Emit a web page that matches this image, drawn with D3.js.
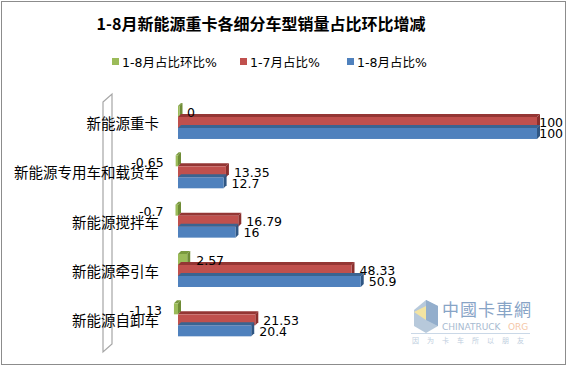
<!DOCTYPE html>
<html><head><meta charset="utf-8">
<script src="https://cdn.jsdelivr.net/npm/d3@7"></script>
<style>
html,body{margin:0;padding:0;background:#fff;}
svg{display:block;}
</style>
</head><body>
<svg id="chart" width="567" height="366"></svg>
<script>
const title = "1-8月新能源重卡各细分车型销量占比环比增减";
const categories = ["新能源重卡","新能源专用车和载货车","新能源搅拌车","新能源牵引车","新能源自卸车"];
const seriesNames = ["1-8月占比环比%","1-7月占比%","1-8月占比%"];
const seriesColors = ["#9BBB59","#C0504D","#4F81BD"];
const topColors = ["#7A9A3E","#943634","#3A6491"];
const sideColors = ["#6E8B35","#8A2F2D","#2F5683"];
const momChange = [0, -0.65, -0.7, 2.57, -1.13];
const share17 = [100, 13.35, 16.79, 48.33, 21.53];
const share18 = [100, 12.7, 16, 50.9, 20.4];
const series = [momChange, share17, share18];

const svg = d3.select("#chart");
const latin = "'DejaVu Sans','Noto Sans CJK SC',sans-serif";
const cjk = "'Noto Sans CJK SC','DejaVu Sans',sans-serif";

// outer border
svg.append("rect").attr("x",1.5).attr("y",1.5).attr("width",564).attr("height",363)
  .attr("fill","#fff").attr("stroke","#8c8c8c").attr("stroke-width",1);

// title
svg.append("text").attr("x",261).attr("y",30).attr("text-anchor","middle")
  .attr("font-family",cjk).attr("font-weight","bold").attr("font-size",16)
  .attr("fill","#000").text(title);

// legend
const legendX = [112, 240, 347];
seriesNames.forEach((n,i)=>{
  svg.append("rect").attr("x",legendX[i]).attr("y",58).attr("width",7).attr("height",7).attr("fill",seriesColors[i]);
  svg.append("text").attr("x",legendX[i]+10).attr("y",66.5).attr("font-family",latin)
    .attr("font-size",12.5).attr("fill","#000").text(n);
});

// scales
const x = d3.scaleLinear().domain([0,100]).range([178,537]);
const y = d3.scaleBand().domain(categories).range([103.3,350]).padding(0);
const d = 3, h = 11;

// 3D wall
svg.append("path")
  .attr("d","M103,102 L112,94 L112,344 L103,352 Z")
  .attr("fill","#fff").attr("stroke","#a6a6a6").attr("stroke-width",1.2);

// category labels
categories.forEach(c=>{
  const cy = y(c) + y.bandwidth()/2;
  svg.append("text").attr("x",159).attr("y",cy-4).attr("dy","0.35em")
    .attr("text-anchor","end").attr("font-family",cjk).attr("font-size",14.5)
    .attr("fill","#000").text(c);
});

// bars
const offsets = [-22, -11, 0];
series.forEach((vals,si)=>{
  vals.forEach((v,ci)=>{
    const cy = y(categories[ci]) + y.bandwidth()/2;
    const yt = cy + offsets[si];
    let x0 = x(Math.min(0,v)), x1 = x(Math.max(0,v));
    if (x1 - x0 < 1.5) x1 = x0 + 1.5;
    const g = svg.append("g");
    g.append("path").attr("d",`M${x0},${yt} L${x1},${yt} L${x1+d},${yt-d} L${x0+d},${yt-d} Z`)
      .attr("fill",topColors[si]);
    g.append("path").attr("d",`M${x1},${yt} L${x1+d},${yt-d} L${x1+d},${yt+h-d} L${x1},${yt+h} Z`)
      .attr("fill",sideColors[si]);
    g.append("rect").attr("x",x0).attr("y",yt).attr("width",x1-x0).attr("height",h)
      .attr("fill",seriesColors[si]);
  });
});

// value labels
series.forEach((vals,si)=>{
  vals.forEach((v,ci)=>{
    const cy = y(categories[ci]) + y.bandwidth()/2;
    const ly = [cy-15, cy-5, cy+6][si];
    const t = svg.append("text").attr("y",ly).attr("dy","0.35em")
      .attr("font-family",latin).attr("font-size",12.5).attr("fill","#000").text(String(v));
    if (v < 0) {
      t.attr("x", x(v) - 12).attr("text-anchor","end");
    } else {
      let lx = x(v) + (si===0 ? 9 : 8);
      const w = String(v).length * 7.6;
      if (lx + w > 562) lx = 562 - w;
      t.attr("x", lx).attr("text-anchor","start");
    }
  });
});

// watermark (chinatruck logo)
const wm = svg.append("g").attr("opacity",0.75);
wm.append("path").attr("d","M414,310 L426,300 L438,306 L438,326 L426,333 L414,326 Z").attr("fill","#9fb8d0");
wm.append("path").attr("d","M414,312 L426,306 L436,312 L426,320 Z").attr("fill","#f0dc84");
wm.append("path").attr("d","M426,300 L438,306 L438,326 L426,320 Z").attr("fill","#6f93bb");
wm.append("text").attr("x",442).attr("y",316).attr("font-family",cjk).attr("font-size",17)
  .attr("fill","#5f86b4").attr("letter-spacing",1).text("中國卡車網");
wm.append("text").attr("x",442).attr("y",330).attr("font-family","'DejaVu Sans',sans-serif").attr("font-size",9)
  .attr("fill","#8aa4c2").text("CHINATRUCK");
wm.append("text").attr("x",508).attr("y",330).attr("font-family","'DejaVu Sans',sans-serif").attr("font-size",9)
  .attr("fill","#f2b48a").text("ORG");
wm.append("line").attr("x1",411).attr("x2",530).attr("y1",333.5).attr("y2",333.5).attr("stroke","#b9cbe0").attr("stroke-width",1);
wm.append("text").attr("x",412).attr("y",343).attr("font-family",cjk).attr("font-size",7)
  .attr("fill","#a9bdd4").attr("letter-spacing",8).text("因为卡车所以朋友");
</script>
</body></html>
